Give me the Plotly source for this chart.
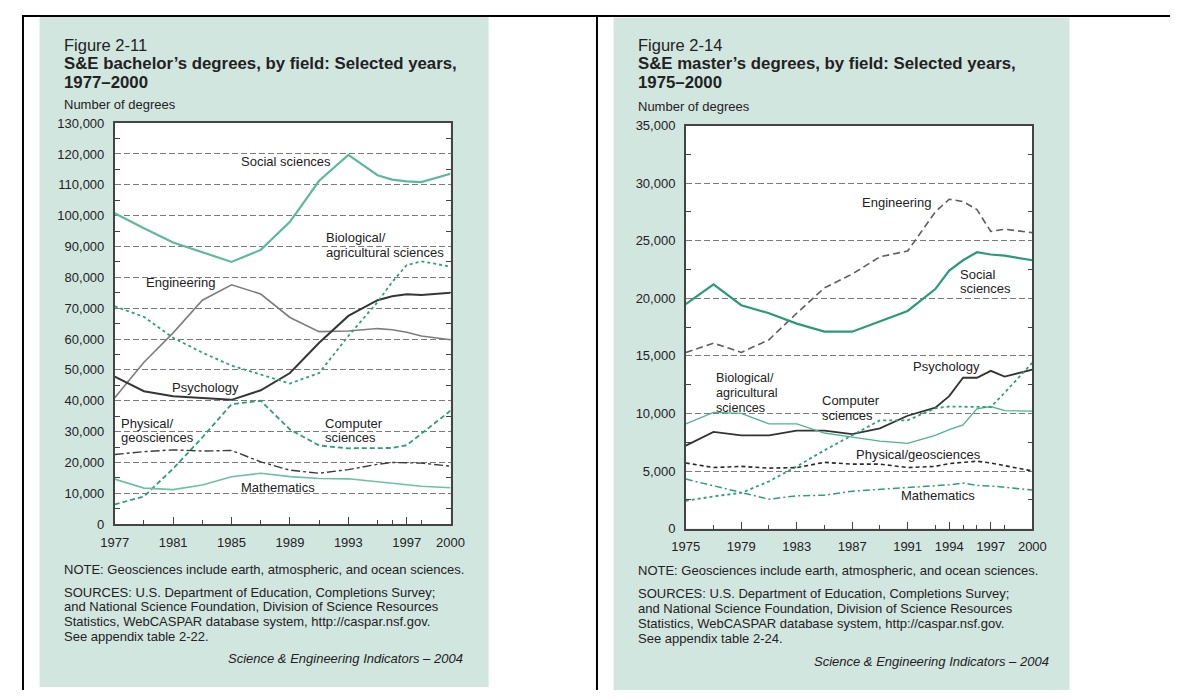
import plotly.graph_objects as go

# the page keeps the browser's 8px body margin, so the figure sits at (8, 8)
W, H = 1176, 690
OFF = 8
FONT = "Liberation Sans, Arial, sans-serif"
TEXT = "#222222"
TEAL_BG = "#d2e6e0"

# Figure 2-11: S&E bachelor's degrees (number of degrees)
ba_years = [1977, 1979, 1981, 1983, 1985, 1987, 1989, 1991, 1993, 1995, 1996, 1997, 1998, 2000]
ba_social = [100800, 95900, 91300, 88200, 85000, 88900, 98000, 111300, 119700, 113100, 111700, 111100, 110900, 113600]
ba_engineering = [41000, 52500, 62000, 72600, 77600, 74600, 67000, 62400, 62600, 63400, 63000, 62200, 61000, 59800]
ba_psychology = [47800, 43100, 41500, 41000, 40300, 43400, 49000, 58800, 67500, 72600, 73900, 74500, 74300, 75000]
ba_bio = [70600, 67200, 60400, 55600, 51400, 48400, 45600, 49000, 61000, 72000, 78500, 84000, 85200, 83500]
ba_computer = [6400, 9000, 18000, 28100, 38900, 40000, 30700, 25500, 24600, 24600, 24700, 25600, 29400, 36800]
ba_physgeo = [22600, 23500, 24100, 23700, 23900, 20200, 17500, 16500, 17700, 19400, 20000, 20000, 19800, 18800]
ba_math = [14600, 11700, 11200, 12700, 15400, 16500, 15400, 14800, 14700, 13800, 13300, 12900, 12300, 11800]
ba_tick_years = [1977, 1981, 1985, 1989, 1993, 1997, 2000]

# Figure 2-14: S&E master's degrees (number of degrees)
ma_years = [1975, 1977, 1979, 1981, 1983, 1985, 1987, 1989, 1991, 1993, 1994, 1995, 1996, 1997, 1998, 2000]
ma_engineering = [15300, 16100, 15300, 16400, 18700, 20900, 22100, 23600, 24100, 27500, 28600, 28400, 27700, 25800, 26000, 25700]
ma_social = [19500, 21200, 19400, 18700, 17800, 17100, 17100, 18000, 18900, 20800, 22400, 23300, 24000, 23800, 23700, 23300]
ma_psychology = [7200, 8400, 8100, 8100, 8500, 8500, 8200, 8700, 9800, 10500, 11500, 13100, 13100, 13700, 13200, 13800]
ma_bio = [9100, 10100, 10000, 9100, 9100, 8300, 7950, 7600, 7400, 8100, 8600, 9000, 10400, 10600, 10250, 10200]
ma_computer = [2400, 2800, 3100, 4100, 5400, 6800, 8100, 9400, 9400, 10450, 10600, 10600, 10600, 10550, 11800, 14400]
ma_physgeo = [5700, 5300, 5400, 5250, 5300, 5750, 5600, 5600, 5300, 5400, 5650, 5750, 5850, 5700, 5450, 5000]
ma_math = [4300, 3700, 3100, 2550, 2850, 2900, 3250, 3400, 3550, 3750, 3800, 3950, 3750, 3700, 3600, 3350]
ma_tick_years = [1975, 1979, 1983, 1987, 1991, 1994, 1997, 2000]

note = "NOTE: Geosciences include earth, atmospheric, and ocean sciences."
sources_ba = ["SOURCES: U.S. Department of Education, Completions Survey;",
              "and National Science Foundation, Division of Science Resources",
              "Statistics, WebCASPAR database system, http://caspar.nsf.gov.",
              "See appendix table 2-22."]
sources_ma = sources_ba[:3] + ["See appendix table 2-24."]
credit = "Science & Engineering Indicators – 2004"


# positions below are page pixels, converted to paper fractions
def px(x):
    return (x - OFF) / W


def py(y):
    return 1 - (y - OFF) / H


fig = go.Figure()


def add_line(xa, ya, xs, ys, color, width, dash="solid"):
    fig.add_trace(go.Scatter(x=xs, y=ys, mode="lines", xaxis=xa, yaxis=ya,
                             line=dict(color=color, width=width, dash=dash),
                             showlegend=False, hoverinfo="skip"))


# left chart
add_line("x", "y", ba_years, ba_social, "#5cb99c", 2.2)
add_line("x", "y", ba_years, ba_engineering, "#7d7d7d", 1.6)
add_line("x", "y", ba_years, ba_psychology, "#363636", 2)
add_line("x", "y", ba_years, ba_bio, "#2e9f7a", 1.8, "dot")
add_line("x", "y", ba_years, ba_computer, "#2e9f7a", 1.8, "5px,3px")
add_line("x", "y", ba_years, ba_physgeo, "#3a3a3a", 1.4, "9px,3px,3px,3px")
add_line("x", "y", ba_years, ba_math, "#6cc0a4", 1.6)

# right chart
add_line("x2", "y2", ma_years, ma_engineering, "#5e5e5e", 1.6, "7px,4px")
add_line("x2", "y2", ma_years, ma_social, "#2a9a79", 2.2)
add_line("x2", "y2", ma_years, ma_psychology, "#333333", 1.8)
add_line("x2", "y2", ma_years, ma_bio, "#52b291", 1.3)
add_line("x2", "y2", ma_years, ma_computer, "#2e9f7a", 1.8, "dot")
add_line("x2", "y2", ma_years, ma_physgeo, "#2a2a2a", 1.6, "4px,3px")
add_line("x2", "y2", ma_years, ma_math, "#2e9f7a", 1.5, "7px,3px,2px,3px")

shapes = [
    dict(type="rect", xref="paper", yref="paper", x0=px(26), x1=px(486), y0=py(695), y1=py(9),
         fillcolor=TEAL_BG, line=dict(width=0), layer="below"),
    dict(type="rect", xref="paper", yref="paper", x0=px(614), x1=px(1081), y0=0, y1=py(10.5),
         fillcolor=TEAL_BG, line=dict(width=0), layer="below"),
    dict(type="rect", xref="paper", yref="paper", x0=px(103), x1=px(447), y0=py(528.5), y1=py(118.5),
         fillcolor="white", line=dict(width=0), layer="below"),
    dict(type="rect", xref="paper", yref="paper", x0=px(688), x1=px(1043), y0=py(533), y1=py(121),
         fillcolor="white", line=dict(width=0), layer="below"),
    dict(type="line", xref="paper", yref="paper", x0=0, x1=1, y0=py(9), y1=py(9),
         line=dict(color="black", width=2)),
    dict(type="line", xref="paper", yref="paper", x0=px(9), x1=px(9), y0=py(9), y1=0,
         line=dict(color="black", width=2)),
    dict(type="line", xref="paper", yref="paper", x0=px(597), x1=px(597), y0=py(9), y1=0,
         line=dict(color="black", width=2)),
]

annotations = []


def text(x, y, s, size=13, xanchor="left", bold=False, italic=False):
    if bold:
        s = "<b>" + s + "</b>"
    if italic:
        s = "<i>" + s + "</i>"
    annotations.append(dict(x=px(x), y=py(y), xref="paper", yref="paper", text=s, showarrow=False,
                            xanchor=xanchor, yanchor="middle",
                            font=dict(family=FONT, size=size, color=TEXT)))


def label(xa, ya, x, y, s, xanchor="center", size=13):
    annotations.append(dict(x=x, y=y, xref=xa, yref=ya, text=s, showarrow=False,
                            xanchor=xanchor, yanchor="middle",
                            font=dict(family=FONT, size=size, color=TEXT)))


for left, fig_no, what, span, ylab_y, note_ys, srcs, credit_x, credit_y in [
        (49, "Figure 2-11", "S&E bachelor’s degrees, by field: Selected years,", "1977–2000", 99,
         [575, 598, 613, 628, 643], sources_ba, 462, 666),
        (637, "Figure 2-14", "S&E master’s degrees, by field: Selected years,", "1975–2000", 102,
         [576, 599, 615, 630, 645], sources_ma, 1062, 669)]:
    text(left, 39, fig_no, size=16.5)
    text(left, 58, what, size=16.8, bold=True)
    text(left, 77, span, size=16.8, bold=True)
    text(left, ylab_y, "Number of degrees")
    text(left, note_ys[0], note)
    for yy, s in zip(note_ys[1:], srcs):
        text(left, yy, s)
    text(credit_x, credit_y, credit, xanchor="right", italic=True)

# left series labels
label("x", "y", 1988.7, 117500, "Social sciences")
label("x", "y", 1991.3, 92800, "Biological/", "left")
label("x", "y", 1991.3, 88000, "agricultural sciences", "left")
label("x", "y", 1981.5, 78200, "Engineering")
label("x", "y", 1983.2, 44200, "Psychology")
label("x", "y", 1977.3, 32600, "Physical/", "left")
label("x", "y", 1977.3, 28200, "geosciences", "left")
label("x", "y", 1991.25, 32600, "Computer", "left")
label("x", "y", 1991.25, 28200, "sciences", "left")
label("x", "y", 1988.2, 11900, "Mathematics")

# right series labels
label("x2", "y2", 1990.2, 28300, "Engineering")
label("x2", "y2", 1994.65, 22100, "Social", "left")
label("x2", "y2", 1994.65, 20850, "sciences", "left")
label("x2", "y2", 1993.8, 14100, "Psychology")
label("x2", "y2", 1977.0, 13100, "Biological/", "left", 12.6)
label("x2", "y2", 1977.0, 11800, "agricultural", "left", 12.6)
label("x2", "y2", 1977.0, 10500, "sciences", "left", 12.6)
label("x2", "y2", 1984.7, 11100, "Computer", "left")
label("x2", "y2", 1984.7, 9850, "sciences", "left")
label("x2", "y2", 1991.8, 6450, "Physical/geosciences")
label("x2", "y2", 1993.2, 2900, "Mathematics")

axis_font = dict(family=FONT, size=13, color=TEXT)


def xaxis(domain, years, ticks_major, anchor):
    minor_vals = [yr for yr in years if yr not in ticks_major]
    return dict(domain=domain, anchor=anchor, range=[years[0], years[-1]],
                tickmode="array", tickvals=ticks_major, ticktext=[str(t) for t in ticks_major],
                ticks="inside", ticklen=7, tickwidth=1.3, tickcolor="#444",
                minor=dict(tickmode="array", tickvals=minor_vals, ticks="inside", ticklen=4,
                           tickwidth=1.3, tickcolor="#444"),
                showgrid=False, zeroline=False, showline=True, linecolor="#444", linewidth=1.6,
                mirror=True, tickfont=axis_font, ticklabelstandoff=5, fixedrange=True)


def yaxis(domain, top, step, anchor):
    return dict(domain=domain, anchor=anchor, range=[0, top], dtick=step, tick0=0,
                tickformat=",d", ticks="", showgrid=True, gridcolor="#7a7a7a", gridwidth=1.2,
                griddash="6px,3px",
                minor=dict(dtick=step / 2, tick0=0, ticks="inside", ticklen=5, tickwidth=1.3,
                           tickcolor="#444", showgrid=False),
                zeroline=False, showline=True, linecolor="#444", linewidth=1.6, mirror="ticks",
                tickfont=axis_font, ticklabelstandoff=6, fixedrange=True)


fig.update_layout(
    width=W, height=H, autosize=False,
    margin=dict(l=0, r=0, t=0, b=0, pad=0),
    paper_bgcolor="white", plot_bgcolor="rgba(0,0,0,0)",
    xaxis=xaxis([px(103), px(447)], ba_years, ba_tick_years, "y"),
    yaxis=yaxis([py(528.5), py(118.5)], 130000, 10000, "x"),
    xaxis2=xaxis([px(688), px(1043)], ma_years, ma_tick_years, "y2"),
    yaxis2=yaxis([py(533), py(121)], 35000, 5000, "x2"),
    shapes=shapes, annotations=annotations,
    font=dict(family=FONT, color=TEXT),
)

fig.write_html("out.html")
